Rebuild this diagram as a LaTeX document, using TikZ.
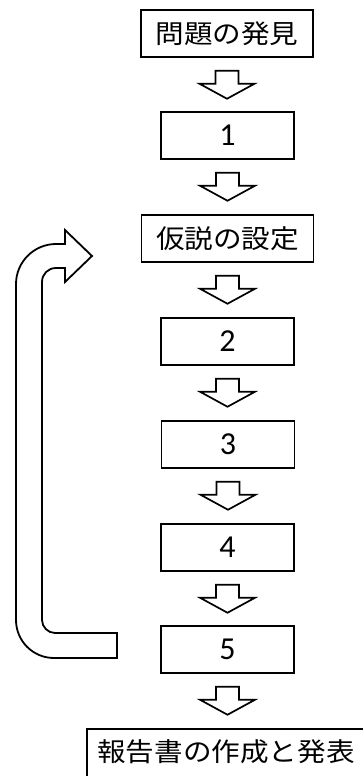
\documentclass[tikz,border=0pt]{standalone}
\usepackage{fontspec}
\setmainfont{Carlito}
\newfontfamily\jp[FakeStretch=1.1]{Noto Sans CJK JP}
\begin{document}
\begin{tikzpicture}[x=1pt,y=-1pt,
  stepbox/.style={draw, line width=1.5pt, minimum width=133pt, minimum height=47pt, inner sep=0pt, font=\fontsize{32}{32}\selectfont},
  widebox/.style={draw, line width=1.5pt, minimum width=172pt, minimum height=47pt, inner sep=0pt, font=\jp\fontsize{26}{26}\selectfont},
  blockarrow/.style={draw, line width=1.7pt, line join=miter, fill=white},
  looparrow/.style={draw, line width=1.8pt, line join=miter, fill=white}]
\useasboundingbox (0,0) rectangle (363,776);
\clip (0,0) rectangle (363,776);
\node[widebox] (p0) at (227,33.5) {問題の発見};
\node[stepbox] (s1) at (227.5,135.5) {1};
\node[widebox] (h) at (227.5,238.5) {仮説の設定};
\node[stepbox] (s2) at (227.5,341.5) {2};
\node[stepbox] (s3) at (228,444.5) {3};
\node[stepbox] (s4) at (227.5,547.5) {4};
\node[stepbox] (s5) at (227.5,649.5) {5};
\node[draw, line width=1.5pt, minimum width=282pt, minimum height=48pt, inner sep=0pt] (fin) at (228,753) {};
\node[font=\jp\fontsize{26}{26}\selectfont] (fint) at (226,752) {報告書の作成と発表};
\foreach \a/\b in {p0/s1, s1/h, h/s2, s2/s3, s3/s4, s4/s5, s5/fin} {
  \coordinate (t) at ([yshift=-13pt]\a.south);
  \draw[blockarrow] (t) ++(-11.5,0) -- ++(23,0) -- ++(0,13) -- ++(16,0) -- ++(-27.5,15) -- ++(-27.5,-15) -- ++(16,0) -- cycle;
}
\coordinate (lstart) at (117,645.5);
\coordinate (ltip) at (92,256);
\draw[looparrow] (117,658) -- (54,658) .. controls (33,658) and (16,641) .. (16,620)
  -- (16,284) .. controls (16,262) and (34,244) .. (56,244) -- (65,244) -- (65,230)
  -- (ltip) -- (65,282) -- (65,268) -- (56,268) .. controls (48,268) and (42,274) .. (42,282)
  -- (42,620) .. controls (42,627) and (48,633) .. (55,633) -- (117,633) -- cycle;
\end{tikzpicture}
\end{document}
